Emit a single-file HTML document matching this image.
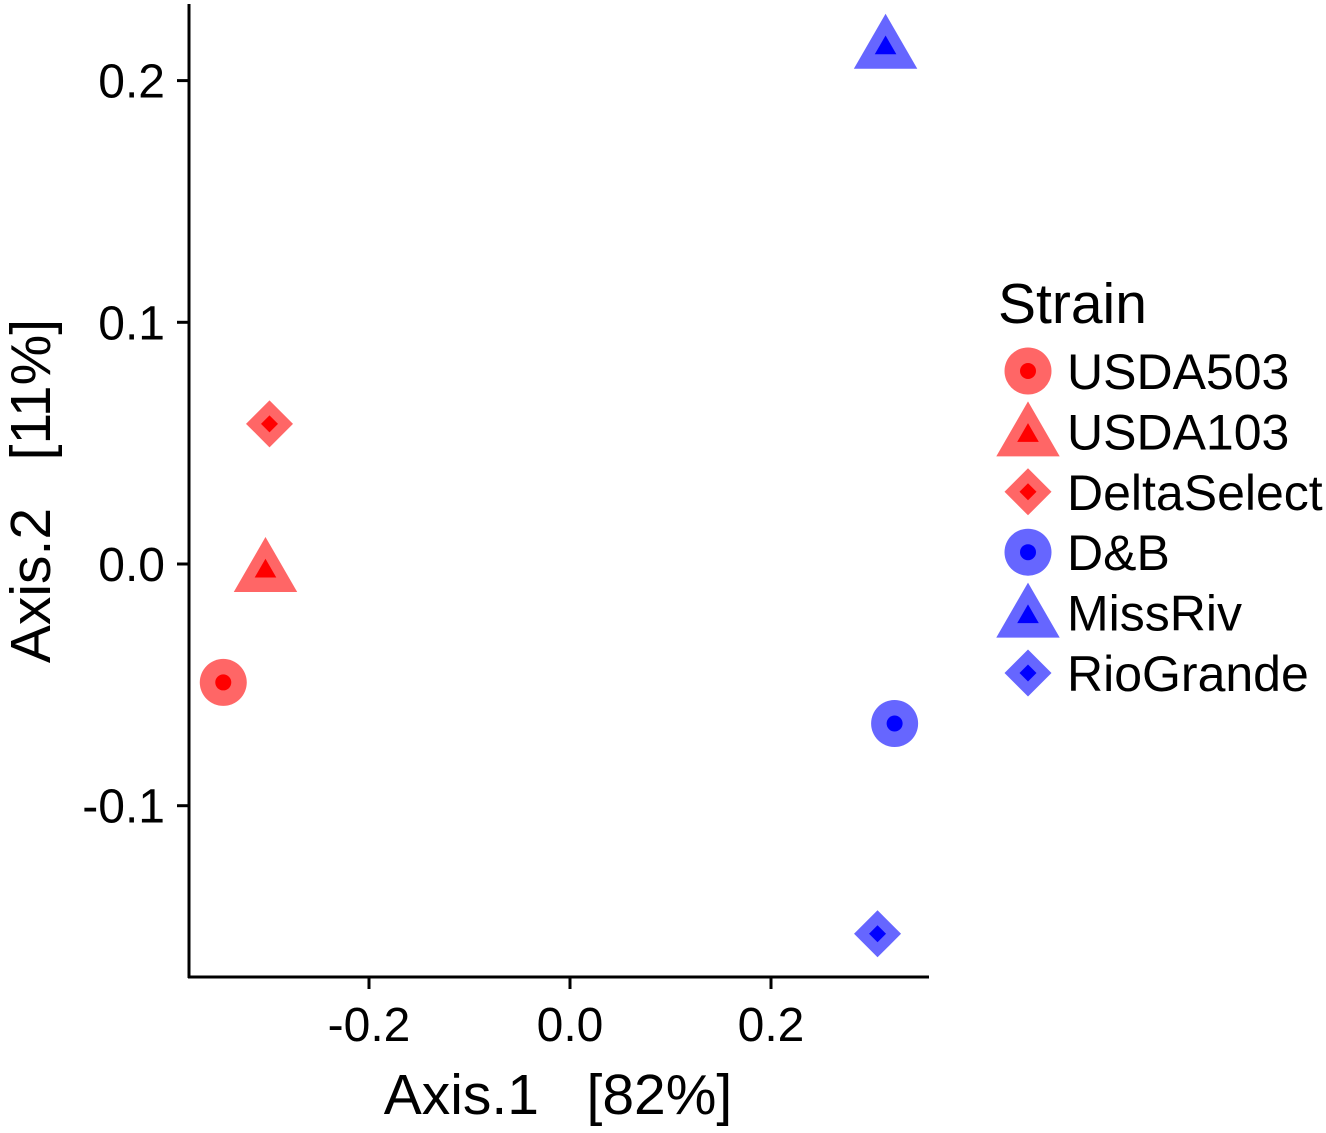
<!DOCTYPE html>
<html><head><meta charset="utf-8"><style>
body{margin:0;background:#fff}
svg text{font-family:"Liberation Sans",Arial,sans-serif;fill:#000;white-space:pre}
</style></head><body>
<svg width="1326" height="1128" viewBox="0 0 1326 1128">
<g id="axes"></g><g id="pts"></g><g id="legend"></g>
</svg>
<script>
const strains=["USDA503","USDA103","DeltaSelect","D&B","MissRiv","RioGrande"];
const xVals=[-0.345,-0.303,-0.299,0.323,0.314,0.306];
const yVals=[-0.049,-0.0025,0.058,-0.066,0.214,-0.153];
const shapes=["circle","triangle","diamond","circle","triangle","diamond"];
const groups=["red","red","red","blue","blue","blue"];
const xTicks=[-0.2,0.0,0.2];
const yTicks=[0.2,0.1,0.0,-0.1];
const xTickLabels=["-0.2","0.0","0.2"];
const yTickLabels=["0.2","0.1","0.0","-0.1"];

const NS="http://www.w3.org/2000/svg";
const sx=v=>570+v*1005;
const sy=v=>564-v*2417;
const outer={red:"#ff6666",blue:"#6666ff"}, inner={red:"#ff0000",blue:"#0000ff"};
function mk(t,a,p){const e=document.createElementNS(NS,t);for(const k in a)e.setAttribute(k,a[k]);p.appendChild(e);return e;}
function shape(g,s,cx,cy,r,fill){
  if(s==="circle") return mk("circle",{cx,cy,r,fill},g);
  if(s==="diamond") return mk("polygon",{points:`${cx},${cy-r} ${cx+r},${cy} ${cx},${cy+r} ${cx-r},${cy}`,fill},g);
  const h=r*2.34,w=r*1.35;
  return mk("polygon",{points:`${cx},${cy-h*0.6} ${cx+w},${cy+h*0.4} ${cx-w},${cy+h*0.4}`,fill},g);
}
function marker(g,s,cx,cy,grp){
  shape(g,s,cx,cy,23.5,outer[grp]);
  shape(g,s,cx,cy,s==="diamond"?8.5:8,inner[grp]);
}
const ax=document.getElementById("axes");
const yl=mk("line",{x1:189,y1:4,x2:189,y2:978,stroke:"#000","stroke-width":3},ax);


const xl=mk("line",{x1:188,y1:977,x2:929,y2:977,stroke:"#000","stroke-width":3},ax);


xTicks.forEach((v,i)=>{
  const t=mk("line",{x1:sx(v),y1:977,x2:sx(v),y2:989,stroke:"#000","stroke-width":3},ax);
  
  
  const l=mk("text",{x:sx(v),y:1041,"text-anchor":"middle","font-size":48},ax);l.textContent=xTickLabels[i];
  
  
});
yTicks.forEach((v,i)=>{
  const t=mk("line",{x1:177,y1:sy(v),x2:189,y2:sy(v),stroke:"#000","stroke-width":3},ax);
  
  
  const l=mk("text",{x:165,y:sy(v)+17,"text-anchor":"end","font-size":48},ax);l.textContent=yTickLabels[i];
  
  
});
const xt=mk("text",{x:558,y:1114,"text-anchor":"middle","font-size":57},ax);xt.textContent="Axis.1   [82%]";


const yt=mk("text",{x:0,y:0,"text-anchor":"middle","font-size":57,transform:"translate(50,491) rotate(-90)"},ax);yt.textContent="Axis.2   [11%]";



const pg=document.getElementById("pts");
strains.forEach((s,i)=>{
  const g=mk("g",{},pg);
  
  
  marker(g,shapes[i],sx(xVals[i]),sy(yVals[i]),groups[i]);
});
const lg=document.getElementById("legend");


const tt=mk("text",{x:998,y:323,"font-size":57},lg);tt.textContent="Strain";


strains.forEach((s,i)=>{
  const cy=371+i*60.4;
  const g=mk("g",{},lg);
  
  
  marker(g,shapes[i],1028,shapes[i]==="triangle"?cy+3:cy,groups[i]);
  const t=mk("text",{x:1067,y:cy+18,"font-size":50},g);t.textContent=s;
});
</script>
</body></html>
